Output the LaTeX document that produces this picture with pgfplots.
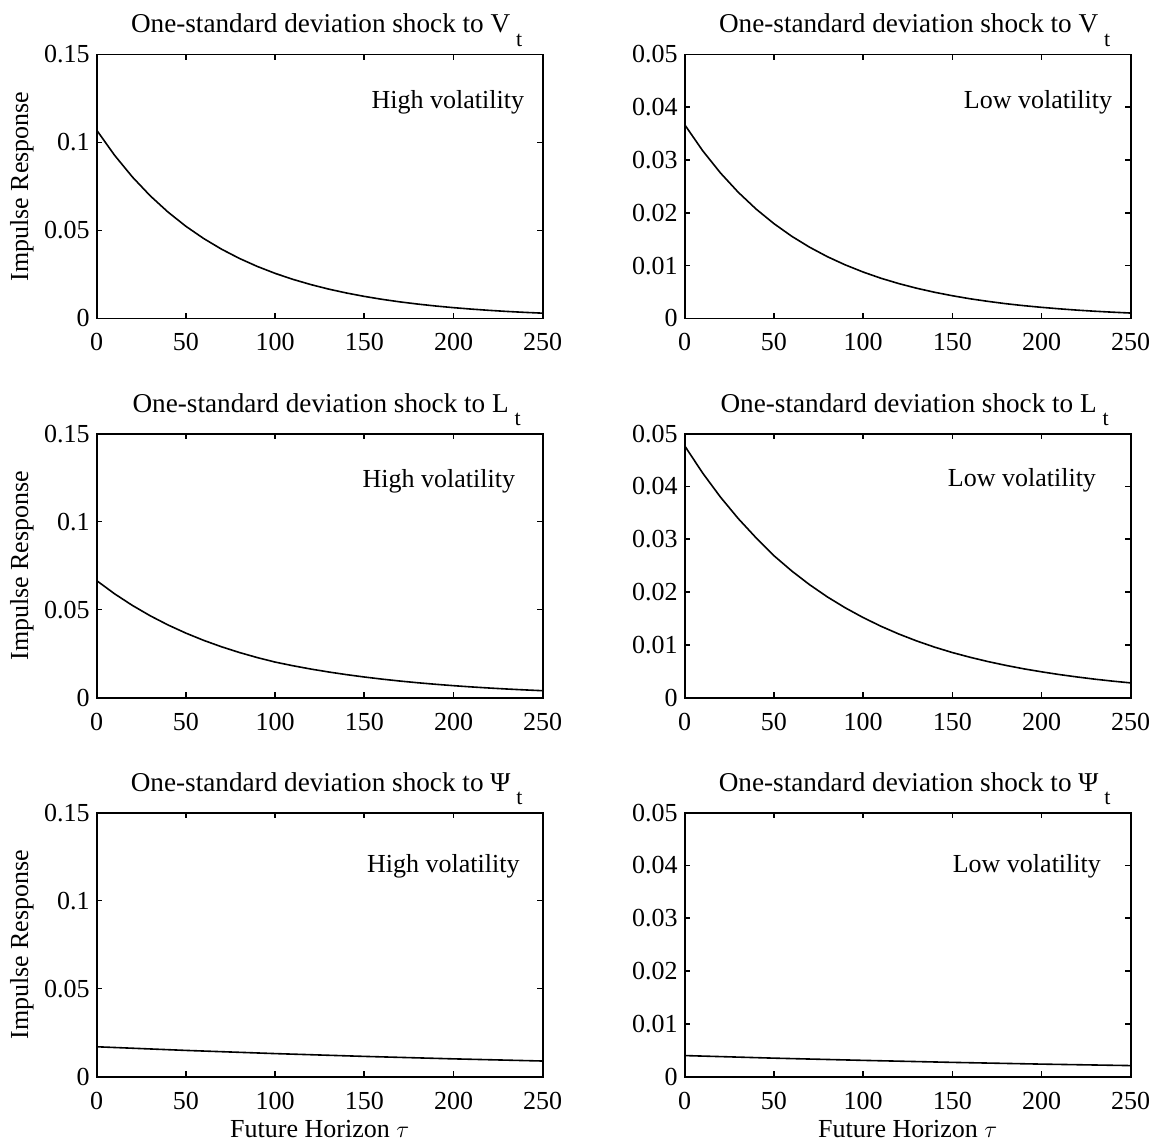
\documentclass[border=0pt]{standalone}
\usepackage{fontspec}
\setmainfont{Liberation Serif}
\usepackage{pgfplots}
\pgfplotsset{compat=1.18}
\newcommand{\fs}{\fontsize{13}{15}\selectfont}
\newcommand{\fst}{\fontsize{13.6}{15}\selectfont}
\newcommand{\sub}[1]{\hspace{3pt}\raisebox{-6.7pt}{\fontsize{11}{12}\selectfont #1}}
\tikzset{ann/.style={anchor=base east, inner sep=0pt, font=\fs}}
\pgfplotsset{
  panel/.style={
    scale only axis, width=223pt, height=132pt,
    xmin=0, xmax=250, ymin=0,
    xtick={0,50,100,150,200,250},
    scaled y ticks=false, scaled x ticks=false,
    tick align=inside, major tick length=2.7pt,
    axis line style={line width=0.9pt, black},
    every tick/.style={black, line width=0.8pt},
    tick label style={font=\fs},
    /pgf/number format/assume math mode=true,
    yticklabel style={/pgf/number format/fixed, /pgf/number format/precision=2},
    xticklabel style={yshift=-4pt},
    every axis title/.style={font=\fst, at={(0.5,1)}, anchor=base, yshift=10.8pt, xshift=3.5pt},
    ylabel style={font=\fs, at={(axis description cs:-0.154,0.5)}, anchor=base},
    xlabel style={font=\fs, at={(axis description cs:0.5,-0.231)}, anchor=base},
  },
  left/.style={ymax=0.15, ytick={0,0.05,0.1,0.15}},
  right/.style={ymax=0.05, ytick={0,0.01,0.02,0.03,0.04,0.05}},
  curve/.style={black, line width=0.8pt, no marks},
}
\begin{document}
\begin{tikzpicture}
\path[use as bounding box] (0,0) rectangle (576.5pt,572pt);
% Row 1 left
\begin{axis}[panel, left, at={(48.35pt,412.75pt)}, anchor=south west,
  title={One-standard deviation shock to V\sub{t}}, ylabel={Impulse Response}]
\addplot[curve] coordinates {(0,0.1070)(10,0.09276)(20,0.08041)(30,0.06970)(40,0.06043)(50,0.05238)(60,0.04541)(70,0.03936)(80,0.03412)(90,0.02958)(100,0.02564)(110,0.02223)(120,0.01927)(130,0.01670)(140,0.01448)(150,0.01255)(160,0.01088)(170,0.00943)(180,0.00818)(190,0.00709)(200,0.00615)(210,0.00533)(220,0.00462)(230,0.00400)(240,0.00347)(250,0.00301)};
\node[ann] at (rel axis cs:0.959,0.796) {High volatility};
\end{axis}
% Row 1 right
\begin{axis}[panel, right, at={(342.35pt,412.75pt)}, anchor=south west,
  title={One-standard deviation shock to V\sub{t}}]
\addplot[curve] coordinates {(0,0.03670)(10,0.03181)(20,0.02758)(30,0.02391)(40,0.02073)(50,0.01797)(60,0.01557)(70,0.01350)(80,0.01170)(90,0.01015)(100,0.00880)(110,0.00762)(120,0.00661)(130,0.00573)(140,0.00497)(150,0.00431)(160,0.00373)(170,0.00324)(180,0.00280)(190,0.00243)(200,0.00211)(210,0.00183)(220,0.00158)(230,0.00137)(240,0.00119)(250,0.00103)};
\node[ann] at (rel axis cs:0.959,0.796) {Low volatility};
\end{axis}
% Row 2 left
\begin{axis}[panel, left, at={(48.35pt,223.15pt)}, anchor=south west,
  title={One-standard deviation shock to L\sub{t}}, ylabel={Impulse Response}]
\addplot[curve] coordinates {(0,0.06650)(10,0.05904)(20,0.05242)(30,0.04653)(40,0.04131)(50,0.03668)(60,0.03256)(70,0.02891)(80,0.02567)(90,0.02279)(100,0.02023)(110,0.01815)(120,0.01628)(130,0.01460)(140,0.01310)(150,0.01175)(160,0.01054)(170,0.00945)(180,0.00848)(190,0.00761)(200,0.00682)(210,0.00612)(220,0.00549)(230,0.00492)(240,0.00442)(250,0.00396)};
\node[ann] at (rel axis cs:0.939,0.795) {High volatility};
\end{axis}
% Row 2 right
\begin{axis}[panel, right, at={(342.35pt,223.15pt)}, anchor=south west,
  title={One-standard deviation shock to L\sub{t}}]
\addplot[curve] coordinates {(0,0.04770)(10,0.04258)(20,0.03801)(30,0.03393)(40,0.03028)(50,0.02690)(60,0.02400)(70,0.02140)(80,0.01908)(90,0.01702)(100,0.01518)(110,0.01353)(120,0.01206)(130,0.01075)(140,0.00958)(150,0.00855)(160,0.00765)(170,0.00684)(180,0.00612)(190,0.00547)(200,0.00490)(210,0.00438)(220,0.00392)(230,0.00350)(240,0.00313)(250,0.00280)};
\node[ann] at (rel axis cs:0.923,0.800) {Low volatility};
\end{axis}
% Row 3 left
\begin{axis}[panel, left, at={(48.35pt,33.65pt)}, anchor=south west,
  title={One-standard deviation shock to Ψ\sub{t}}, ylabel={Impulse Response},
  xlabel={Future Horizon $\tau$}]
\addplot[curve] coordinates {(0,0.01700)(50,0.01493)(100,0.01312)(150,0.01153)(200,0.01013)(250,0.00890)};
\node[ann] at (rel axis cs:0.949,0.774) {High volatility};
\end{axis}
% Row 3 right
\begin{axis}[panel, right, at={(342.35pt,33.65pt)}, anchor=south west,
  title={One-standard deviation shock to Ψ\sub{t}},
  xlabel={Future Horizon $\tau$}]
\addplot[curve] coordinates {(0,0.00400)(50,0.00351)(100,0.00309)(150,0.00271)(200,0.00238)(250,0.00210)};
\node[ann] at (rel axis cs:0.934,0.774) {Low volatility};
\end{axis}
\end{tikzpicture}
\end{document}
